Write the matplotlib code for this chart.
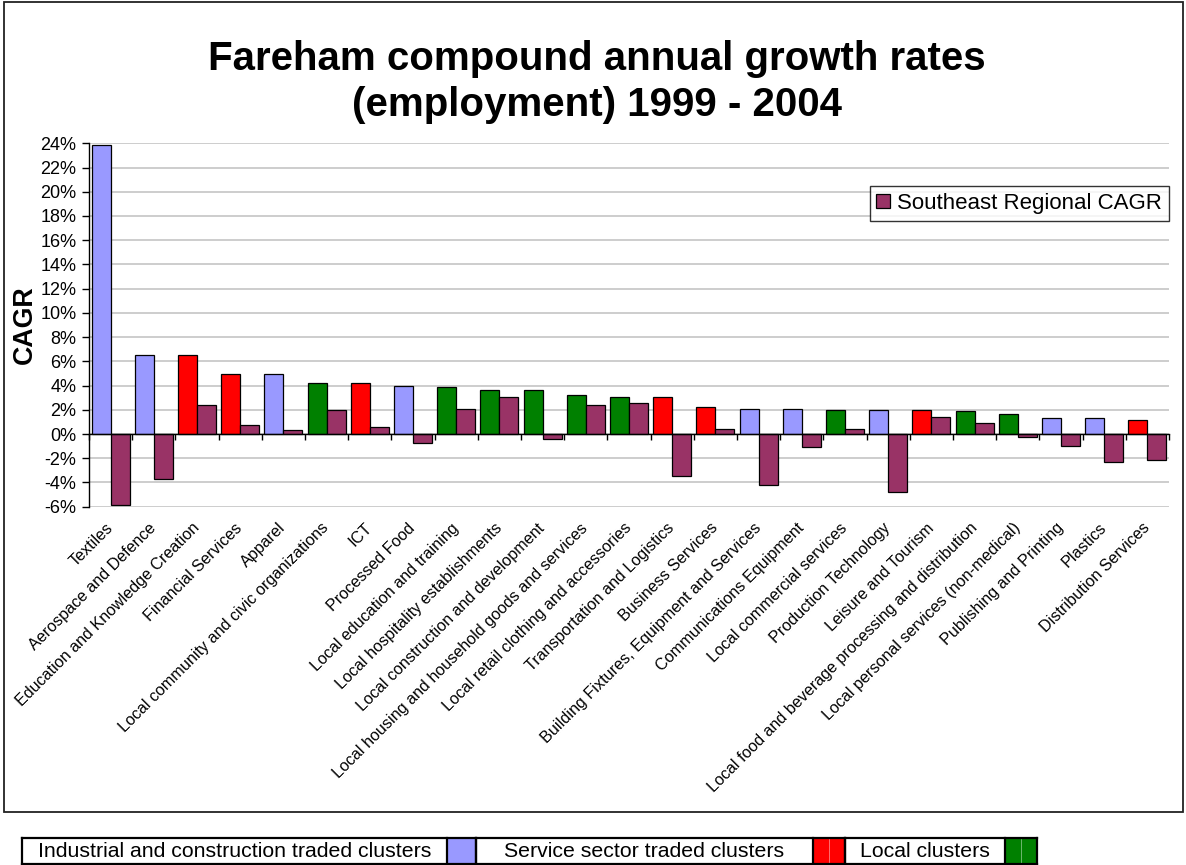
import matplotlib
matplotlib.use("Agg")
import matplotlib.pyplot as plt
from matplotlib.patches import Rectangle
from matplotlib.lines import Line2D
from matplotlib.ticker import FuncFormatter, FixedLocator
import numpy as np

plt.rcParams['font.family'] = ['Liberation Sans', 'DejaVu Sans']

categories = [
    "Textiles", "Aerospace and Defence", "Education and Knowledge Creation",
    "Financial Services", "Apparel", "Local community and civic organizations",
    "ICT", "Processed Food", "Local education and training",
    "Local hospitality establishments", "Local construction and development",
    "Local housing and household goods and services",
    "Local retail clothing and accessories", "Transportation and Logistics",
    "Business Services", "Building Fixtures, Equipment and Services",
    "Communications Equipment", "Local commercial services",
    "Production Technology", "Leisure and Tourism",
    "Local food and beverage processing and distribution",
    "Local personal services (non-medical)", "Publishing and Printing",
    "Plastics", "Distribution Services",
]
cluster_type = ["I", "I", "S", "S", "I", "L", "S", "I", "L", "L", "L", "L", "L",
                "S", "S", "I", "I", "L", "I", "S", "L", "L", "I", "I", "S"]
fareham_cagr = [23.9, 6.5, 6.5, 4.95, 4.95, 4.25, 4.25, 4.0, 3.9, 3.65, 3.65,
                3.18, 3.08, 3.08, 2.22, 2.1, 2.1, 1.98, 1.98, 1.98, 1.86, 1.62,
                1.29, 1.29, 1.18]
regional_cagr = [-5.86, -3.71, 2.39, 0.71, 0.35, 2.0, 0.58, -0.74, 2.1, 3.08,
                 -0.39, 2.36, 2.6, -3.5, 0.44, -4.18, -1.1, 0.44, -4.8, 1.4,
                 0.9, -0.25, -0.96, -2.28, -2.15]
type_keys = ["I", "S", "L"]
type_names = ["Industrial and construction traded clusters",
              "Service sector traded clusters", "Local clusters"]
type_colors = ["#9999FF", "#FF0000", "#008000"]
regional_color = "#993366"
regional_label = "Southeast Regional CAGR"
y_ticks = list(range(-6, 25, 2))

W, H = 1186, 865
fig = plt.figure(figsize=(W / 100, H / 100), dpi=100)

def fx(px):
    return px / W

def fy(py):
    return 1 - py / H

# chart border
fig.add_artist(Rectangle((fx(4), fy(812)), fx(1183) - fx(4), fy(2) - fy(812),
                         fill=False, edgecolor="#222222", linewidth=1.3,
                         transform=fig.transFigure))

ax_l, ax_r, ax_t, ax_b = 89, 1169, 143.3, 506.7
ax = fig.add_axes([fx(ax_l), fy(ax_b), fx(ax_r) - fx(ax_l), fy(ax_t) - fy(ax_b)])

x = np.arange(len(categories))
bw = 0.44
color_map = dict(zip(type_keys, type_colors))
bar_colors = [color_map[t] for t in cluster_type]
ax.bar(x - bw / 2, fareham_cagr, bw, color=bar_colors, edgecolor="black",
       linewidth=0.9, zorder=3)
ax.bar(x + bw / 2, regional_cagr, bw, color=regional_color, edgecolor="black",
       linewidth=0.9, zorder=3, label=regional_label)

ax.set_xlim(-0.5, len(categories) - 0.5)
ax.set_ylim(-6, 24)
ax.set_yticks(y_ticks)
ax.yaxis.set_major_formatter(FuncFormatter(lambda v, p: f"{v:.0f}%"))
ax.grid(axis="y", color="#c0c0c0", linewidth=1.1, zorder=0)
ax.set_axisbelow(True)

for s in ["top", "right"]:
    ax.spines[s].set_visible(False)
ax.spines["left"].set_color("black")
ax.spines["left"].set_linewidth(1.0)
ax.spines["bottom"].set_position(("data", 0))
ax.spines["bottom"].set_color("black")
ax.spines["bottom"].set_linewidth(1.0)
ax.spines["bottom"].set_zorder(4)

ax.tick_params(axis="y", direction="out", length=5, width=1, labelsize=13,
               pad=4)
ax.set_xticks(x)
ax.xaxis.set_minor_locator(FixedLocator(np.arange(len(categories) + 1) - 0.5))
ax.tick_params(axis="x", which="minor", direction="out", length=4, width=1)
ax.tick_params(axis="x", which="major", length=0, pad=66)
ax.set_xticklabels(categories, rotation=45, ha="right", va="center",
                   rotation_mode="anchor", fontsize=11.6)

fig.text(fx(25), fy(325), "CAGR", rotation=90, ha="center", va="center",
         fontsize=19.3, fontweight="bold")

fig.text(fx(597), fy(82), "Fareham compound annual growth rates\n(employment) 1999 - 2004",
         ha="center", va="center", fontsize=29, fontweight="bold",
         linespacing=1.3)

leg = ax.legend(loc="upper right", bbox_to_anchor=(1.0, 1 - 43 / (ax_b - ax_t)),
                borderaxespad=0, fontsize=16, frameon=True, fancybox=False,
                handlelength=0.6, handleheight=0.6, handletextpad=0.35,
                borderpad=0.3)
leg.get_frame().set_edgecolor("black")
leg.get_frame().set_linewidth(1.0)

# bottom key table
t_top, t_bot = 837.7, 863.5
cells = [(21.7, 446.7, 476), (476, 813, 845), (845, 1005, 1037)]
for (x0, x1, x2), name, col in zip(cells, type_names, type_colors):
    fig.add_artist(Rectangle((fx(x1), fy(t_bot)), fx(x2) - fx(x1), fy(t_top) - fy(t_bot),
                             facecolor=col, edgecolor="none",
                             transform=fig.transFigure))
    fig.text(fx((x0 + x1) / 2), fy((t_top + t_bot) / 2 + 1), name, ha="center",
             va="center", fontsize=15.3)
    for xx in (x0, x1, x2):
        fig.add_artist(Line2D([fx(xx), fx(xx)], [fy(t_top), fy(t_bot)],
                              color="black", linewidth=1.6,
                              transform=fig.transFigure))
    if col != type_colors[0]:
        xm = (x1 + x2) / 2
        fig.add_artist(Line2D([fx(xm), fx(xm)], [fy(t_top + 1), fy(t_bot - 1)],
                              color="white", linewidth=0.5, alpha=0.6,
                              transform=fig.transFigure))
for yy in (t_top, t_bot):
    fig.add_artist(Line2D([fx(cells[0][0]), fx(cells[-1][2])], [fy(yy), fy(yy)],
                          color="black", linewidth=1.6, transform=fig.transFigure))

fig.savefig("out.png", dpi=100, facecolor="white")
